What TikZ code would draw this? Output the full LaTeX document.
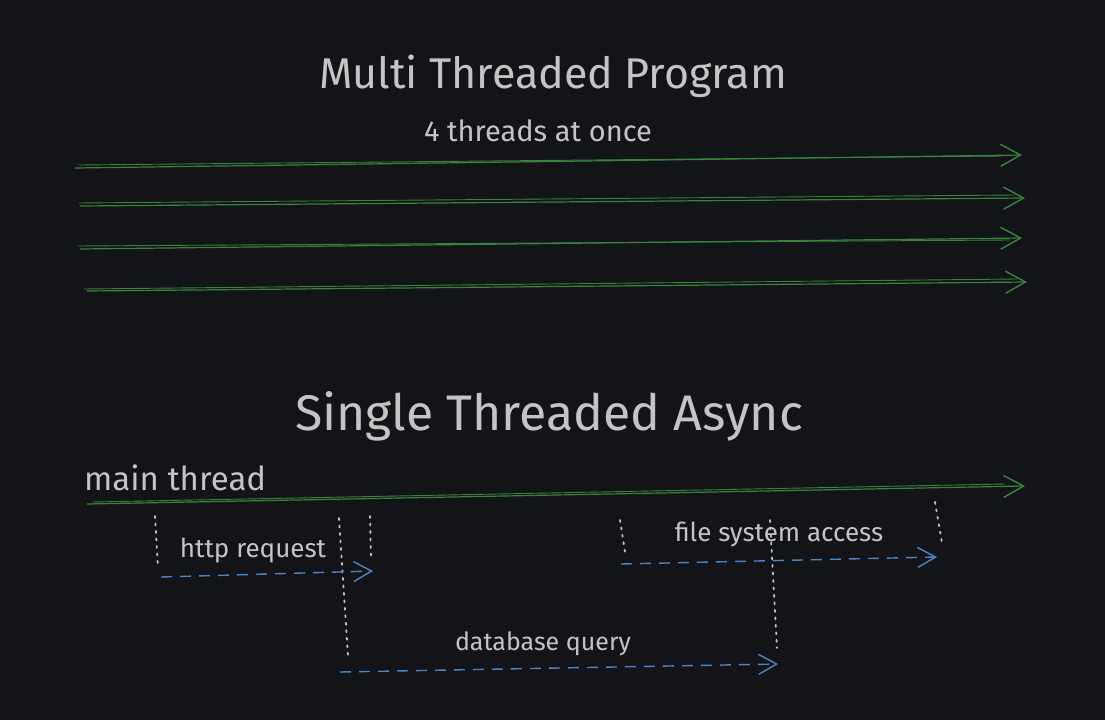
\documentclass[tikz,border=0pt]{standalone}
\usepackage{fontspec}
\setmainfont{Fira Sans}
\usetikzlibrary{arrows.meta}

\definecolor{bg}{HTML}{121418}
\definecolor{thread}{HTML}{3B833B}
\definecolor{task}{HTML}{4A86C5}
\definecolor{ink}{HTML}{C4C4C4}
\definecolor{dots}{HTML}{C0C0C0}

\tikzset{
  label/.style={text=ink,inner sep=0pt},
  thread/.style={draw=thread,line width=1.2pt,-{Straight Barb[length=20pt,width=22pt,line width=1.4pt]}},
  task/.style={draw=task,line width=1.4pt,dash pattern=on 11pt off 8pt,-{Straight Barb[length=18pt,width=20pt,line width=1.4pt,sep=0pt]}},
  marker/.style={draw=dots,line width=1.8pt,dash pattern=on 2pt off 5.5pt,line cap=round}
}

\begin{document}
\begin{tikzpicture}[x=1pt,y=-1pt]
\fill[bg] (0,0) rectangle (1105,720);
\useasboundingbox (0,0) rectangle (1105,720);

% multi threaded
\node[label,font=\fontsize{43}{48}\selectfont] (multi) at (553,76) {Multi Threaded Program};
\node[label,font=\fontsize{29}{34}\selectfont] (four) at (538,131) {4 threads at once};

\coordinate (t1s) at (75,168);  \coordinate (t1e) at (1022,155);
\coordinate (t2s) at (80,206);  \coordinate (t2e) at (1025,198);
\coordinate (t3s) at (80,249);  \coordinate (t3e) at (1022,238);
\coordinate (t4s) at (87,291);  \coordinate (t4e) at (1027,282);
\draw[thread] (t1s) -- (t1e);
\draw[thread] (t2s) -- (t2e);
\draw[thread] (t3s) -- (t3e);
\draw[thread] (t4s) -- (t4e);
% second stroke, hand drawn look
\draw[draw=thread,line width=0.9pt] ([shift={(4,-3)}]t1s) -- ([shift={(-20,1)}]t1e);
\draw[draw=thread,line width=0.9pt] ([shift={(-1,-3)}]t2s) -- ([shift={(-10,-3)}]t2e);
\draw[draw=thread,line width=0.9pt] ([shift={(-2,-3)}]t3s) -- ([shift={(-12,2)}]t3e);
\draw[draw=thread,line width=0.9pt] ([shift={(-3,-2)}]t4s) -- ([shift={(-10,-3)}]t4e);

% single threaded
\node[label,font=\fontsize{50}{56}\selectfont] (single) at (549,416) {Single Threaded Async};
\node[label,font=\fontsize{33}{38}\selectfont,anchor=west] (main) at (84,478) {main thread};

\coordinate (ms) at (87,504);  \coordinate (me) at (1025,486);
\draw[thread] (ms) -- (me);
\draw[draw=thread,line width=0.9pt] ([shift={(6,-2)}]ms) -- ([shift={(-20,-2)}]me);

% dotted markers
\draw[marker] (155,516) -- (158,568);
\draw[marker] (339,518) -- (348,656);
\draw[marker] (370,516) -- (371,558);
\draw[marker] (620,520) -- (625,552);
\draw[marker] (770,520) -- (777,648);
\draw[marker] (935,502) -- (942,543);

% async tasks
\coordinate (hs) at (161,577);  \coordinate (he) at (373,571);
\coordinate (fs) at (621,564);  \coordinate (fe) at (937,557);
\coordinate (ds) at (340,672);  \coordinate (de) at (778,664);
\draw[task] (hs) -- (he);
\draw[task] (fs) -- (fe);
\draw[task] (ds) -- (de);
\node[label,font=\fontsize{26}{30}\selectfont] (http) at (253,551) {http request};
\node[label,font=\fontsize{26}{30}\selectfont] (files) at (779,535) {file system access};
\node[label,font=\fontsize{25}{30}\selectfont] (db) at (543,644) {database query};
\end{tikzpicture}
\end{document}
